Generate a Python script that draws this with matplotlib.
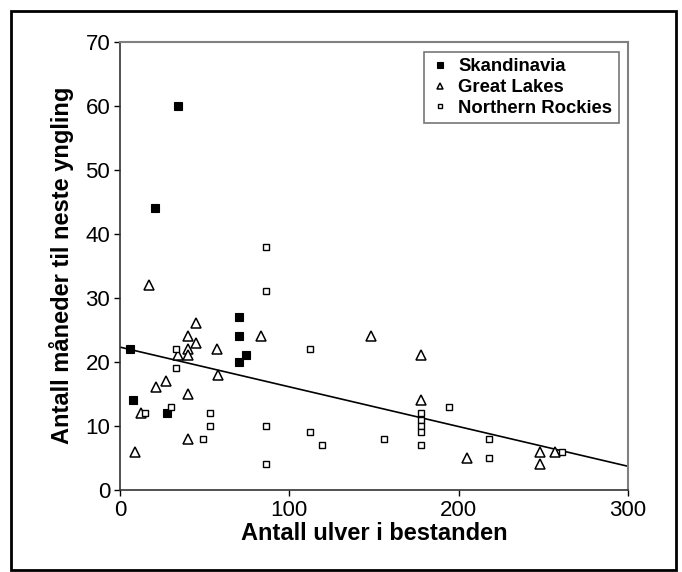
import numpy as np
import matplotlib
matplotlib.use('Agg')
import matplotlib.pyplot as plt
from matplotlib.patches import Rectangle

plt.rcParams['font.family'] = ['Liberation Sans', 'DejaVu Sans']

# Skandinavia
skand_x = [34.5, 20.7, 70.4, 70.4, 5.9, 74.6, 70.4, 7.9, 27.8]
skand_y = [60, 44, 27, 24, 22, 21, 20, 14, 12]

# Great Lakes
lakes_x = [17, 45, 40, 83, 45, 40, 57, 34.5, 40, 58, 27, 21.5, 40, 12.5,
           40, 9, 148.5, 178, 178, 205, 248, 257, 248]
lakes_y = [32, 26, 24, 24, 23, 22, 22, 21, 21, 18, 17, 16, 15, 12,
           8, 6, 24, 21, 14, 5, 6, 6, 4]

# Northern Rockies
rockies_x = [86, 86, 33, 112, 33, 30, 15, 53, 53, 86, 112, 49, 86, 119,
             156, 178, 178, 178, 178, 178, 194, 218, 218, 261]
rockies_y = [38, 31, 22, 22, 19, 13, 12, 12, 10, 10, 9, 8, 4, 7,
             8, 12, 11, 10, 9, 7, 13, 8, 5, 6]

# trend line
trend_intercept = 22.3
trend_slope = -0.062

xticks = [0, 100, 200, 300]
yticks = [0, 10, 20, 30, 40, 50, 60, 70]

fig = plt.figure(figsize=(6.82, 5.72), dpi=100)
ax = fig.add_axes([120 / 682, 82 / 572, 508 / 682, 448.5 / 572])

ax.plot(skand_x, skand_y, 's', color='black', markersize=6.2,
        markeredgewidth=0.8, label='Skandinavia', zorder=3)
ax.plot(lakes_x, lakes_y, '^', markerfacecolor='white', markeredgecolor='black',
        markersize=7, markeredgewidth=1.1, label='Great Lakes', zorder=3)
ax.plot(rockies_x, rockies_y, 's', markerfacecolor='white', markeredgecolor='black',
        markersize=5, markeredgewidth=1.0, label='Northern Rockies', zorder=3)

xs = np.array([0, 300])
ax.plot(xs, trend_intercept + trend_slope * xs, color='black', linewidth=1.2, zorder=2)

ax.set_xlim(0, 300)
ax.set_ylim(0, 70)
ax.set_xticks(xticks)
ax.set_yticks(yticks)
ax.tick_params(direction='out', length=4, width=1, labelsize=16, pad=3)

for side in ['top', 'right']:
    ax.spines[side].set_color('#808080')
    ax.spines[side].set_linewidth(1.5)
for side in ['left', 'bottom']:
    ax.spines[side].set_color('#333333')
    ax.spines[side].set_linewidth(1.2)

ax.set_xlabel('Antall ulver i bestanden', fontsize=17, fontweight='bold', labelpad=1)
ax.set_ylabel('Antall måneder til neste yngling', fontsize=17, fontweight='bold', labelpad=8)

leg = ax.legend(loc='upper right', markerscale=0.7, frameon=True,
                fancybox=False, edgecolor='#555555', handlelength=1.0,
                handletextpad=0.5, borderpad=0.35, labelspacing=0.2,
                borderaxespad=0, prop={'weight': 'bold', 'size': 13.3},
                bbox_to_anchor=(0.982, 0.977))
leg.get_frame().set_linewidth(1.2)

# outer frame around the whole figure
fig.patches.append(Rectangle((11 / 682, 2 / 572), 665 / 682, 559 / 572,
                             transform=fig.transFigure, fill=False,
                             edgecolor='black', linewidth=2))

fig.savefig('out.png', dpi=100)
